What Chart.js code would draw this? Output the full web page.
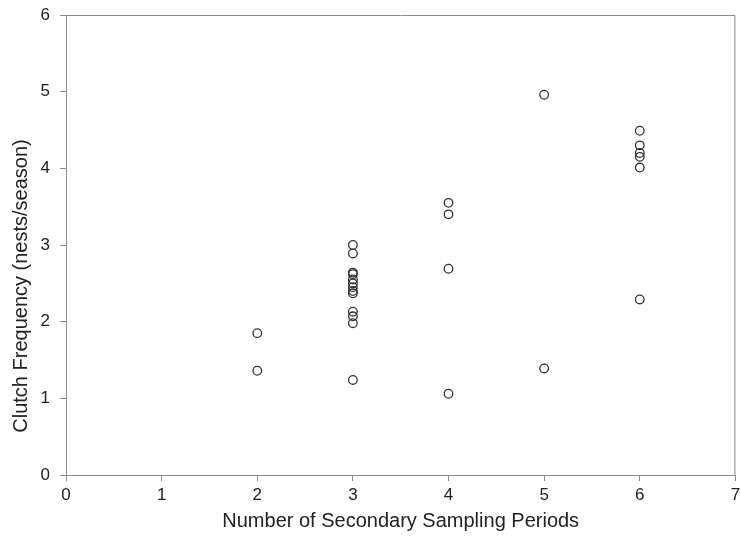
<!DOCTYPE html>
<html>
<head>
<meta charset="utf-8">
<script src="https://cdn.jsdelivr.net/npm/chart.js@4.4.0/dist/chart.umd.min.js"></script>
<style>
  html, body { margin: 0; padding: 0; background: #fff; }
  #wrap { width: 741px; height: 536px; }
</style>
</head>
<body>
<div id="wrap"><canvas id="clutch" width="741" height="536"></canvas></div>
<script>
// sampling periods (x) and clutch frequency (y)
const periods = [2, 2,
  3, 3, 3, 3, 3, 3, 3, 3, 3, 3, 3, 3, 3,
  4, 4, 4, 4,
  5, 5,
  6, 6, 6, 6, 6, 6];
const clutchFreq = [1.85, 1.36,
  3.00, 2.89, 2.64, 2.62, 2.55, 2.50, 2.45, 2.40, 2.37, 2.13, 2.07, 1.98, 1.24,
  3.55, 3.40, 2.69, 1.06,
  4.96, 1.39,
  4.49, 4.30, 4.20, 4.15, 4.01, 2.29];
const xTicks = [0, 1, 2, 3, 4, 5, 6, 7];
const yTicks = [0, 1, 2, 3, 4, 5, 6];
const yTitle = 'Clutch Frequency (nests/season)';

const axisGray = '#8c8c8c';
const textColor = '#222';
const fontFam = '"Liberation Sans", Arial, sans-serif';

const points = periods.map((p, i) => ({ x: p, y: clutchFreq[i] }));

// the layout should not grow for overhanging tick labels
const noLabelPad = s => {
  s.paddingTop = 0; s.paddingBottom = 0;
  s.paddingLeft = 0; s.paddingRight = 0;
};

// top and right frame edges, plus the y title (sits a bit below centre in the original)
const frame = {
  id: 'frame',
  afterDraw(chart) {
    const a = chart.chartArea;
    const ctx = chart.ctx;
    ctx.save();
    ctx.strokeStyle = axisGray;
    ctx.lineWidth = 1;
    ctx.beginPath();
    ctx.moveTo(a.left, a.top + 0.5);
    ctx.lineTo(a.right - 0.5, a.top + 0.5);
    ctx.lineTo(a.right - 0.5, a.bottom);
    ctx.stroke();

    ctx.translate(21, (a.top + a.bottom) / 2 + 41);
    ctx.rotate(-Math.PI / 2);
    ctx.fillStyle = textColor;
    ctx.font = '20px ' + fontFam;
    ctx.textAlign = 'center';
    ctx.textBaseline = 'middle';
    ctx.fillText(yTitle, 0, 0);
    ctx.restore();
  }
};

new Chart('clutch', {
  type: 'scatter',
  data: {
    datasets: [{
      data: points,
      pointStyle: 'circle',
      pointRadius: 4.3,
      pointBorderWidth: 1.3,
      pointBorderColor: '#333',
      pointBackgroundColor: 'rgba(0,0,0,0)',
      pointHoverRadius: 4.3
    }]
  },
  options: {
    responsive: false,
    animation: false,
    layout: { padding: { top: 15, right: 5, left: 0, bottom: 0 } },
    plugins: {
      legend: { display: false },
      tooltip: { enabled: false }
    },
    scales: {
      x: {
        type: 'linear',
        min: 0,
        max: 7,
        afterBuildTicks: s => { s.ticks = xTicks.map(v => ({ value: v })); },
        afterFit: s => { s.height = 61; noLabelPad(s); },
        grid: { drawOnChartArea: false, color: axisGray, tickLength: 6 },
        border: { color: axisGray },
        ticks: { color: textColor, font: { family: fontFam, size: 17 }, padding: 4 },
        title: {
          display: true,
          text: 'Number of Secondary Sampling Periods',
          color: textColor,
          font: { family: fontFam, size: 20 },
          padding: { top: 0, bottom: 3 }
        }
      },
      y: {
        type: 'linear',
        min: 0,
        max: 6,
        afterBuildTicks: s => { s.ticks = yTicks.map(v => ({ value: v })); },
        afterFit: s => { s.width = 66; noLabelPad(s); },
        grid: { drawOnChartArea: false, color: axisGray, tickLength: 6 },
        border: { color: axisGray },
        ticks: { color: textColor, font: { family: fontFam, size: 17 }, padding: 10 },
        title: { display: false }
      }
    }
  },
  plugins: [frame]
});
</script>
</body>
</html>
